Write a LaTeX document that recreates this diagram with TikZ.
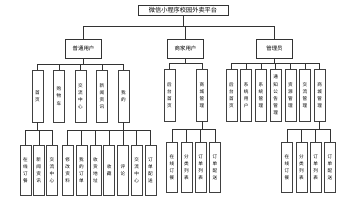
\documentclass[tikz,border=0pt]{standalone}
\usepackage{fontspec}
\setmainfont{Noto Sans CJK SC}
\usepackage{tikz}
\usetikzlibrary{positioning}
\tikzstyle{platform} = [rectangle, draw=black!80, line width=0.5pt, minimum width=90pt, minimum height=10pt, inner sep=0pt, font=\fontsize{6.2}{7}\selectfont]
\tikzstyle{role} = [rectangle, draw=black!80, line width=0.5pt, minimum width=36pt, minimum height=19pt, inner sep=0pt, font=\fontsize{5.4}{6}\selectfont]
\tikzstyle{func} = [rectangle, draw=black!75, line width=0.5pt, minimum width=11pt, minimum height=52pt, inner sep=0pt, align=center, font=\fontsize{4.6}{7.2}\selectfont]
\tikzstyle{leaf} = [func, minimum height=50pt]
\tikzstyle{link} = [draw=black!80, line width=0.5pt]

\begin{document}
\begin{tikzpicture}[x=1pt, y=-1pt]
\useasboundingbox[fill=white] (0,0) rectangle (356,200);

\node[platform] (root) at (183,10) {微信小程序校园外卖平台};

\node[role] (user) at (83.5,48.5) {普通用户};
\node[role] (shop) at (185.5,48.5) {商家用户};
\node[role] (admin) at (274.5,48.5) {管理员};

% 普通用户
\node[func, anchor=north] (home) at (37.5,70) {首\\页};
\node[func, right=10pt of home] (cart) {购\\物\\车};
\node[func, right=10pt of cart] (chat) {交\\流\\中\\心};
\node[func, right=10pt of chat] (news) {新\\闻\\资\\讯};
\node[func, right=10pt of news] (mine) {我\\的};

% 商家用户
\node[func, anchor=north] (shopindex) at (169.5,69) {后\\台\\首\\页};
\node[func, right=21pt of shopindex] (shopmall) {商\\城\\管\\理};

% 管理员
\node[func, anchor=north] (admindex) at (231.5,69) {后\\台\\首\\页};
\node[func, right=3.2pt of admindex] (sysuser) {系\\统\\用\\户};
\node[func, right=3.2pt of sysuser] (sysmgr) {系\\统\\管\\理};
\node[func, right=3.2pt of sysmgr] (notice) {通\\知\\公\\告\\管\\理};
\node[func, right=3.2pt of notice] (resmgr) {资\\源\\管\\理};
\node[func, right=3.2pt of resmgr] (chatmgr) {交\\流\\管\\理};
\node[func, right=3.2pt of chatmgr] (admmall) {商\\城\\管\\理};

% 首页
\node[leaf, anchor=north] (hOrder) at (25.5,145) {在\\线\\订\\餐};
\node[leaf, right=1.75pt of hOrder] (hNews) {新\\闻\\资\\讯};
\node[leaf, right=1.75pt of hNews] (hChat) {交\\流\\中\\心};

% 我的
\node[leaf, anchor=north] (mEdit) at (67.7,145) {修\\改\\资\\料};
\node[leaf, right=2.3pt of mEdit] (mOrders) {我\\的\\订\\单};
\node[leaf, right=2.3pt of mOrders] (mAddr) {收\\货\\地\\址};
\node[leaf, right=2.3pt of mAddr] (mFav) {收\\藏};
\node[leaf, right=2.3pt of mFav] (mComment) {评\\论};
\node[leaf, right=2.3pt of mComment] (mChat) {交\\流\\中\\心};
\node[leaf, right=2.3pt of mChat] (mDeliver) {订\\单\\配\\送};

% 商家 商城管理
\node[leaf, anchor=north] (sOrder) at (172,142) {在\\线\\订\\餐};
\node[leaf, right=2.8pt of sOrder] (sCat) {分\\类\\列\\表};
\node[leaf, right=2.8pt of sCat] (sList) {订\\单\\列\\表};
\node[leaf, right=2.8pt of sList] (sDeliver) {订\\单\\配\\送};

% 管理员 商城管理
\node[leaf, anchor=north] (aOrder) at (287,142) {在\\线\\订\\餐};
\node[leaf, right=2.8pt of aOrder] (aCat) {分\\类\\列\\表};
\node[leaf, right=2.8pt of aCat] (aList) {订\\单\\列\\表};
\node[leaf, right=2.8pt of aList] (aDeliver) {订\\单\\配\\送};

\foreach \c in {user,shop,admin}
  \draw[link] (root.south) -- ++(0,11) -| (\c.north);
\foreach \c in {home,cart,chat,news,mine}
  \draw[link] (user.south) -- ++(0,6) -| (\c.north);
\foreach \c in {shopindex,shopmall}
  \draw[link] (shop.south) -- ++(0,5) -| (\c.north);
\foreach \c in {admindex,sysuser,sysmgr,notice,resmgr,chatmgr,admmall}
  \draw[link] (admin.south) -- ++(0,5) -| (\c.north);
\foreach \c in {hOrder,hNews,hChat}
  \draw[link] (home.south) -- ++(0,8) -| (\c.north);
\foreach \c in {mEdit,mOrders,mAddr,mFav,mComment,mChat,mDeliver}
  \draw[link] (mine.south) -- ++(0,8) -| (\c.north);
\foreach \c in {sOrder,sCat,sList,sDeliver}
  \draw[link] (shopmall.south) -- ++(0,8) -| (\c.north);
\foreach \c in {aOrder,aCat,aList,aDeliver}
  \draw[link] (admmall.south) -- ++(0,8) -| (\c.north);
\end{tikzpicture}
\end{document}
